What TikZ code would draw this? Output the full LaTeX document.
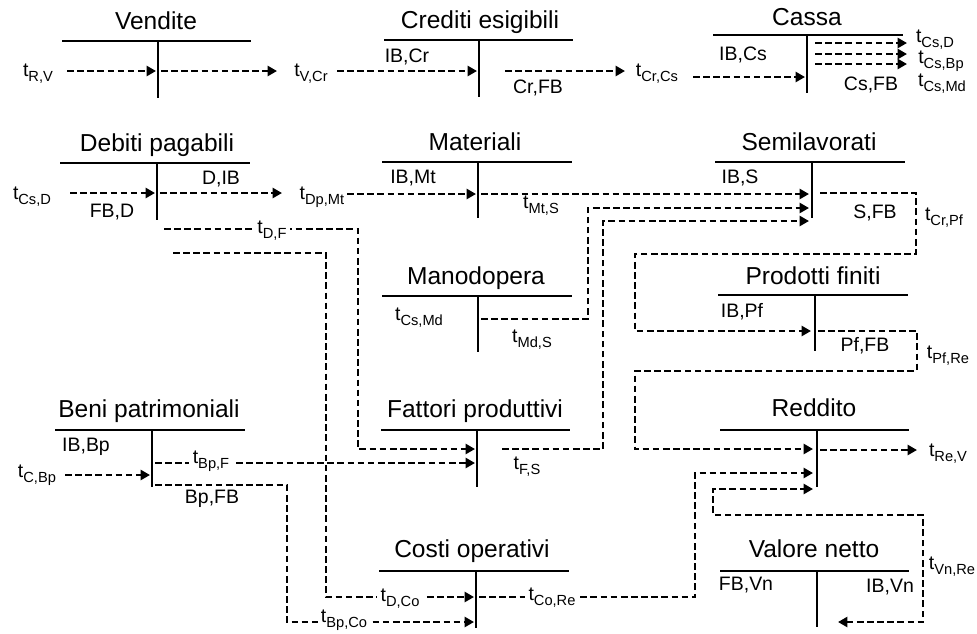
\documentclass[tikz,border=0pt]{standalone}
\usepackage{fontspec}
\setmainfont{Liberation Sans}
\usetikzlibrary{arrows.meta}

\newcommand{\tsub}[1]{t\raisebox{-3.6pt}{\fontsize{11}{11}\selectfont #1}}

\begin{document}
\begin{tikzpicture}[x=0.75pt,y=-0.75pt,
    acctitle/.style={font=\fontsize{18.4}{20}\selectfont, inner sep=0pt, anchor=base},
    lab/.style={font=\fontsize{14.6}{16}\selectfont, inner sep=0pt},
    gaplab/.style={lab, fill=white, inner sep=2.5pt},
    tline/.style={line width=2pt},
    flow/.style={line width=1.8pt, dash pattern=on 5pt off 2.6pt, -{Triangle[length=7pt,width=7.5pt]}},
    bothflow/.style={flow, {Triangle[length=7pt,width=7.5pt]}-{Triangle[length=7pt,width=7.5pt]}}]
    \useasboundingbox (0,0) rectangle (977,633);

    % Vendite
    \node[acctitle] (ven) at (156,29) {Vendite};
    \draw[tline] (62,41) -- (251,41);
    \draw[tline] (158,41) -- (158,98);

    % Crediti esigibili
    \node[acctitle] (cre) at (480,28) {Crediti esigibili};
    \draw[tline] (384,40) -- (573,40);
    \draw[tline] (479,40) -- (479,97);
    \node[lab] (ibcr) at (407,57) {IB,Cr};
    \node[lab] (crfb) at (538,88) {Cr,FB};

    % Cassa
    \node[acctitle] (cas) at (807,25) {Cassa};
    \draw[tline] (713,35) -- (903,35);
    \draw[tline] (807,35) -- (807,93);
    \node[lab] (ibcs) at (743,55) {IB,Cs};
    \node[lab] (csfb) at (871,85) {Cs,FB};

    % Debiti pagabili
    \node[acctitle] (deb) at (157,151) {Debiti pagabili};
    \draw[tline] (60,163) -- (250,163);
    \draw[tline] (157,163) -- (157,220);
    \node[lab] (dib) at (221,179) {D,IB};
    \node[lab] (fbd) at (112,212) {FB,D};

    % Materiali
    \node[acctitle] (mat) at (475,150) {Materiali};
    \draw[tline] (382,162) -- (572,162);
    \draw[tline] (478,162) -- (478,218);
    \node[lab] (ibmt) at (413,178) {IB,Mt};

    % Semilavorati
    \node[acctitle] (sem) at (809,150) {Semilavorati};
    \draw[tline] (715,162) -- (905,162);
    \draw[tline] (812,162) -- (812,218);
    \node[lab] (ibs) at (740,178) {IB,S};
    \node[lab] (sfb) at (875,213) {S,FB};

    % Manodopera
    \node[acctitle] (man) at (476,284) {Manodopera};
    \draw[tline] (382,296) -- (572,296);
    \draw[tline] (478,296) -- (478,352);

    % Prodotti finiti
    \node[acctitle] (pfi) at (813,284) {Prodotti finiti};
    \draw[tline] (718,295) -- (908,295);
    \draw[tline] (815,295) -- (815,351);
    \node[lab] (ibpf) at (742,312) {IB,Pf};
    \node[lab] (pffb) at (865,346) {Pf,FB};

    % Beni patrimoniali
    \node[acctitle] (ben) at (149,417) {Beni patrimoniali};
    \draw[tline] (55,430) -- (245,430);
    \draw[tline] (152,430) -- (152,487);
    \node[lab] (ibbp) at (86,447) {IB,Bp};
    \node[lab] (bpfb) at (212,499) {Bp,FB};

    % Fattori produttivi
    \node[acctitle] (fat) at (475,417) {Fattori produttivi};
    \draw[tline] (381,430) -- (570,430);
    \draw[tline] (477,430) -- (477,487);

    % Reddito
    \node[acctitle] (red) at (814,416) {Reddito};
    \draw[tline] (720,430) -- (909,430);
    \draw[tline] (817,430) -- (817,487);

    % Costi operativi
    \node[acctitle] (cos) at (472,557) {Costi operativi};
    \draw[tline] (379,571) -- (569,571);
    \draw[tline] (476,571) -- (476,628);

    % Valore netto
    \node[acctitle] (val) at (814,557) {Valore netto};
    \draw[tline] (720,571) -- (909,571);
    \draw[tline] (817,571) -- (817,627);
    \node[lab] (fbvn) at (746,585) {FB,Vn};
    \node[lab] (ibvn) at (890,587) {IB,Vn};

    % transfer labels
    \node[lab] (tRV) at (38,74) {\tsub{R,V}};
    \node[lab] (tVCr) at (311,74) {\tsub{V,Cr}};
    \node[lab] (tCrCs) at (657,74) {\tsub{Cr,Cs}};
    \node[lab] (tCsD) at (935,40) {\tsub{Cs,D}};
    \node[lab] (tCsBp) at (941,61) {\tsub{Cs,Bp}};
    \node[lab] (tCsMd) at (942,84) {\tsub{Cs,Md}};
    \node[lab] (tCsDb) at (32,197) {\tsub{Cs,D}};
    \node[lab] (tDpMt) at (322,197) {\tsub{Dp,Mt}};
    \node[lab] (tMtS) at (541,206) {\tsub{Mt,S}};
    \node[lab] (tCrPf) at (944,218) {\tsub{Cr,Pf}};
    \node[lab] (tCsMdb) at (419,318) {\tsub{Cs,Md}};
    \node[lab] (tMdS) at (532,340) {\tsub{Md,S}};
    \node[lab] (tPfRe) at (948,356) {\tsub{Pf,Re}};
    \node[lab] (tFS) at (527,467) {\tsub{F,S}};
    \node[lab] (tReV) at (948,454) {\tsub{Re,V}};
    \node[lab] (tCBp) at (37,475) {\tsub{C,Bp}};
    \node[lab] (tVnRe) at (952,567) {\tsub{Vn,Re}};

    % arrow ends
    \coordinate (venL) at (67,71);
    \coordinate (venIn) at (156,71);
    \coordinate (venOut) at (161,71);
    \coordinate (vcrTip) at (277,71);
    \coordinate (vcrL) at (337,71);
    \coordinate (creIn) at (477,71);
    \coordinate (creOut) at (505,71);
    \coordinate (crcsTip) at (625,71);
    \coordinate (crcsL) at (693,77);
    \coordinate (casIn) at (805,77);
    \coordinate (debL) at (70,193);
    \coordinate (debIn) at (155,193);
    \coordinate (debOut) at (160,193);
    \coordinate (dpmtTip) at (282,193);
    \coordinate (dpmtL) at (347,194);
    \coordinate (matIn) at (476,194);
    \coordinate (matOut) at (481,194);
    \coordinate (semIn1) at (809,194);
    \coordinate (semIn2) at (809,208);
    \coordinate (semIn3) at (809,221);
    \coordinate (semOut) at (820,193);
    \coordinate (manOut) at (481,319);
    \coordinate (pfIn) at (811,331);
    \coordinate (pfOut) at (818,331);
    \coordinate (dfS) at (164,229);
    \coordinate (dcoS) at (173,253);
    \coordinate (fatIn1) at (475,449);
    \coordinate (fatIn2) at (475,463);
    \coordinate (fatOut) at (502,449);
    \coordinate (benL) at (65,475);
    \coordinate (benIn) at (150,475);
    \coordinate (benOut1) at (155,463);
    \coordinate (benOut2) at (155,485);
    \coordinate (redIn1) at (813,449);
    \coordinate (redIn2) at (813,473);
    \coordinate (redIn3) at (813,489);
    \coordinate (redOut) at (820,450);
    \coordinate (reTip) at (917,450);
    \coordinate (coIn1) at (474,597);
    \coordinate (coIn2) at (474,622);
    \coordinate (coOut) at (479,597);
    \coordinate (valIn) at (838,622);

    % flows of the first row
    \draw[flow] (venL) -- (venIn);
    \draw[flow] (venOut) -- (vcrTip);
    \draw[flow] (vcrL) -- (creIn);
    \draw[flow] (creOut) -- (crcsTip);
    \draw[flow] (crcsL) -- (casIn);
    \draw[flow] (815,43) -- (907,43);
    \draw[flow] (815,54) -- (907,54);
    \draw[flow] (815,64) -- (907,64);

    % flows into production
    \draw[flow] (debL) -- (debIn);
    \draw[flow] (debOut) -- (dpmtTip);
    \draw[flow] (dpmtL) -- (matIn);
    \draw[flow] (matOut) -- (semIn1);
    \draw[flow] (manOut) -- (588,319) |- (semIn2);
    \draw[flow] (fatOut) -- (603,449) |- (semIn3);
    \draw[flow] (semOut) -- (916,193) |- (635,254) |- (pfIn);
    \draw[flow] (pfOut) -- (917,331) |- (635,371) |- (redIn1);
    \draw[flow] (redOut) -- (reTip);

    % flows from Debiti and Beni
    \draw[flow] (dfS) -- (358,229) |- (fatIn1);
    \draw[flow] (dcoS) -- (326,253) |- (coIn1);
    \draw[flow] (benL) -- (benIn);
    \draw[flow] (benOut1) -- (fatIn2);
    \draw[flow] (benOut2) -- (287,485) |- (coIn2);

    % flows into Reddito
    \draw[flow] (coOut) -- (695,597) |- (redIn2);
    \draw[bothflow] (valIn) -- (923,622) |- (713,515) |- (redIn3);

    % labels sitting on the lines
    \node[gaplab] (tDF) at (272,231) {\tsub{D,F}};
    \node[gaplab] (tBpF) at (211,461) {\tsub{Bp,F}};
    \node[gaplab] (tDCo) at (400,599) {\tsub{D,Co}};
    \node[gaplab] (tBpCo) at (344,620) {\tsub{Bp,Co}};
    \node[gaplab] (tCoRe) at (552,598) {\tsub{Co,Re}};
\end{tikzpicture}
\end{document}
